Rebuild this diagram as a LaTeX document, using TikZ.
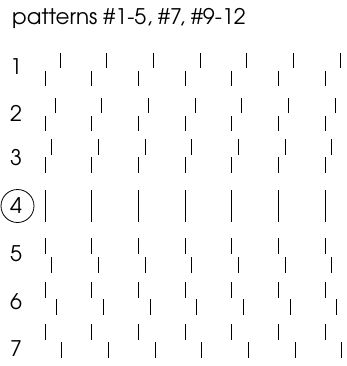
\documentclass[tikz,border=0pt]{standalone}
\usepackage{fontspec}
\setmainfont{TeX Gyre Adventor}

\begin{document}
\begin{tikzpicture}[x=1pt, y=-1pt,
  every node/.style={font=\fontsize{21.5}{24}\selectfont, inner sep=0pt},
  tick/.style={line width=0.8pt, black}]
\useasboundingbox (0,0) rectangle (347,366);

% Title
\node[anchor=base west] (title) at (12,25) {patterns \#1-5, \#7, \#9-12};

% Rows: label / label y / upper top / upper shift / lower top / lower shift
\foreach \n/\ly/\ua/\us/\la/\ls in {1/67/53/15/71/0, 2/113/98/10/116/0,
    3/158/139/6.7/157/0, 4/206/190/0/206/0, 5/254/238/0/257/6.7,
    6/301.5/282/0/299/11.7, 7/348.5/324/0/342/16.7}{
  \node (lab\n) at (16,\ly) {\n};
  \foreach \k in {0,...,6}{
    \draw[tick] ({45+46.67*\k+\us},\ua) -- ++(0,15.5);
    \draw[tick] ({45+46.67*\k+\ls},\la) -- ++(0,15.5);
  }
}

% Circle round 4
\draw[line width=0.8pt] ([xshift=1.5pt]lab4.center) circle[radius=16.5pt];

\end{tikzpicture}
\end{document}
